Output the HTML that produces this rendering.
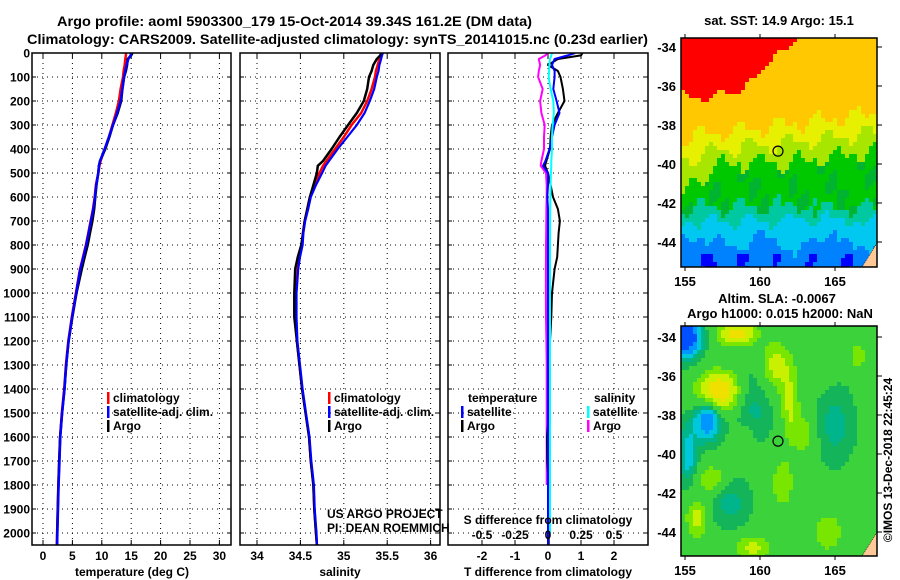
<!DOCTYPE html>
<html><head><meta charset="utf-8">
<style>
html,body{margin:0;padding:0;background:#fff;}
svg{display:block;}
text{font-family:"Liberation Sans",sans-serif;fill:#000;}
.b{font-weight:bold;font-size:12px;}
</style></head>
<body>
<svg id="fig" width="900" height="580" viewBox="0 0 900 580" xmlns="http://www.w3.org/2000/svg">
<defs>
<clipPath id="c1"><rect x="32" y="53" width="199" height="492"/></clipPath>
<clipPath id="c2"><rect x="240" y="53" width="200" height="492"/></clipPath>
<clipPath id="c3"><rect x="448" y="53" width="200" height="492"/></clipPath>
<clipPath id="cm1"><rect x="681" y="38" width="196" height="229"/></clipPath>
<clipPath id="cm2"><rect x="681" y="326" width="196" height="230"/></clipPath>
</defs>
<text x="57" y="26" class="b" style="font-size:14px" textLength="475" lengthAdjust="spacingAndGlyphs">Argo profile: aoml 5903300_179 15-Oct-2014 39.34S 161.2E (DM data)</text>
<text x="27" y="44" class="b" style="font-size:14px" textLength="621" lengthAdjust="spacingAndGlyphs">Climatology: CARS2009. Satellite-adjusted climatology: synTS_20141015.nc (0.23d earlier)</text>
<g id="g"></g>
</svg>
<script>
// ---- data ----
const depths = [0,10,25,50,75,100,150,200,250,300,350,400,450,470,500,550,600,650,700,750,800,850,900,1000,1100,1200,1300,1400,1500,1600,1700,1800,1900,2000,2050];
const tempClim = [14.1,14.1,14.0,13.9,13.7,13.6,13.2,12.9,12.4,11.8,11.2,10.5,9.8,9.6,9.4,9.0,8.8,8.5,8.1,7.7,7.3,6.8,6.3,5.6,4.9,4.3,3.9,3.6,3.2,2.9,2.75,2.6,2.5,2.4,2.35];
const tempSat = [15.0,14.9,14.5,14.2,14.0,13.8,13.5,13.2,12.6,11.9,11.2,10.5,9.7,9.5,9.4,9.05,8.85,8.55,8.15,7.75,7.35,6.85,6.35,5.65,4.95,4.35,3.95,3.65,3.25,2.95,2.8,2.65,2.55,2.45,2.4];
const tempArgo = [15.2,15.0,14.4,14.3,14.1,13.8,13.5,13.3,12.7,11.9,11.3,10.6,9.7,9.5,9.4,9.1,8.9,8.7,8.4,8.0,7.6,7.1,6.6,5.7,5.0,4.35,3.95,3.65,3.25,2.9,2.75,2.62,2.52,2.42,2.4];
const salClim = [35.43,35.43,35.41,35.39,35.37,35.36,35.32,35.27,35.20,35.09,35.00,34.90,34.80,34.76,34.72,34.66,34.61,34.58,34.55,34.53,34.52,34.49,34.47,34.45,34.45,34.46,34.49,34.52,34.56,34.60,34.62,34.65,34.66,34.68,34.69];
const salSat = [35.45,35.44,35.43,35.41,35.40,35.38,35.35,35.30,35.24,35.15,35.04,34.93,34.83,34.79,34.75,34.68,34.62,34.59,34.555,34.535,34.525,34.495,34.475,34.455,34.455,34.465,34.495,34.525,34.565,34.605,34.625,34.655,34.665,34.685,34.69];
const salArgo = [35.43,35.42,35.38,35.34,35.32,35.29,35.27,35.23,35.15,35.05,34.95,34.86,34.76,34.70,34.69,34.65,34.61,34.58,34.55,34.53,34.51,34.47,34.44,34.43,34.43,34.46,34.49,34.52,34.56,34.60,34.62,34.65,34.66,34.68,34.69];
const dTArgo = [1.05,1.0,0.3,0.0,0.3,0.38,0.45,0.5,0.3,0.12,0.08,0.06,-0.05,-0.09,0,0.08,0.15,0.3,0.36,0.32,0.3,0.28,0.2,0.12,0.1,0.06,0.05,0.04,0.03,-0.03,-0.02,0.02,0.02,0.02,0.02];
const dTSat = [0.82,0.6,0.2,0.12,0.2,0.2,0.16,0.26,0.35,0.2,0.12,0.05,-0.08,-0.15,0,0,-0.02,0,0,0,0,0,0,0,0,0,0,0,0,0,0,0,0,0,0];
const dSArgo = [0,-0.02,-0.07,-0.06,-0.07,-0.075,-0.04,-0.06,-0.05,-0.025,-0.03,-0.03,-0.05,-0.055,-0.015,-0.01,-0.01,-0.012,-0.013,-0.014,-0.015,-0.015,-0.016,-0.016,-0.015,-0.012,-0.01,-0.01,-0.01,-0.01,-0.01,-0.01,-0.01,-0.01,-0.01];
const dSSat = [0.03,0.025,0.015,0.01,0.008,0.005,0.02,0.04,0.045,0.035,0.03,0.03,0.025,0.025,0.022,0.02,0.018,0.017,0.016,0.016,0.015,0.015,0.015,0.015,0.015,0.015,0.015,0.015,0.015,0.015,0.015,0.015,0.015,0.015,0.015];
const depthTicks = [0,100,200,300,400,500,600,700,800,900,1000,1100,1200,1300,1400,1500,1600,1700,1800,1900,2000];
const tempTicks = [0,5,10,15,20,25,30];
const salTicks = [34,34.5,35,35.5,36];
const salTickLabels = ["34","34.5","35","35.5","36"];
const tdTicks = [-2,-1,0,1,2];
const sdTicks = [-0.5,-0.25,0,0.25,0.5];
const sdTickLabels = ["-0.5","-0.25","0","0.25","0.5"];
const latTicks = [-34,-36,-38,-40,-42,-44];
const lonTicks = [155,160,165];
const argoLon = 161.2, argoLat = -39.34;

// ---- scales ----
const yD = d => 53 + d*0.24;
const xT = t => 43 + t*5.88;
const xS = s => 257 + (s-34)*86.8;
const xTD = t => 548 + t*33;
const xSD = s => 548 + s*132;
const xLon = l => 685 + (l-155)*15;
const yLat1 = l => 47 + (-34-l)*19.5;
const yLat2 = l => 337 + (-34-l)*19.5;

const NS="http://www.w3.org/2000/svg";
const G=document.getElementById('g');
function el(tag,attrs,parent){const e=document.createElementNS(NS,tag);for(const k in attrs)e.setAttribute(k,attrs[k]);(parent||G).appendChild(e);return e;}
function txt(s,x,y,anchor,cls,parent){const t=el('text',{x:x,y:y,'text-anchor':anchor||'start','class':cls||'b'},parent);t.textContent=s;return t;}

// ---- panels ----
const panels=[{x0:32,x1:231,clip:'c1',name:'temperature-panel'},{x0:240,x1:440,clip:'c2',name:'salinity-panel'},{x0:448,x1:648,clip:'c3',name:'difference-panel'}];
const pg=[];
panels.forEach(p=>{
  const g=el('g',{});
  
  
  pg.push(g);
  depthTicks.forEach(d=>{ if(d>0){const l=el('line',{x1:p.x0,x2:p.x1,y1:yD(d),y2:yD(d),stroke:'#000','stroke-width':1,'stroke-dasharray':'1,4'},g);
    
    }
    el('line',{x1:p.x0,x2:p.x0+4,y1:yD(d),y2:yD(d),stroke:'#000'},g);
    el('line',{x1:p.x1-4,x2:p.x1,y1:yD(d),y2:yD(d),stroke:'#000'},g);
  });
});
function vgrid(g,xs){xs.forEach(x=>{const l=el('line',{x1:x,x2:x,y1:53,y2:545,stroke:'#000','stroke-dasharray':'1,4'},g);
  
  
  el('line',{x1:x,x2:x,y1:53,y2:58,stroke:'#000'},g);el('line',{x1:x,x2:x,y1:540,y2:545,stroke:'#000'},g);});}
vgrid(pg[0],tempTicks.map(xT));
vgrid(pg[1],salTicks.map(xS));
vgrid(pg[2],tdTicks.map(xTD));

depthTicks.forEach(d=>{const t=txt(String(d),30,yD(d)+4.5,'end');
  
  });
tempTicks.forEach(v=>{const t=txt(String(v),xT(v),560,'middle');
  
  });
salTicks.forEach((v,i)=>{const t=txt(salTickLabels[i],xS(v),560,'middle');
  
  });
tdTicks.forEach(v=>{const t=txt(String(v),xTD(v),560,'middle');
  
  });
sdTicks.forEach((v,i)=>{const t=txt(sdTickLabels[i],xSD(v),539,'middle');
  
  });
[['temperature (deg C)',132,'temperature-axis-title'],['salinity',340,'salinity-axis-title'],['T difference from climatology',548,'t-diff-axis-title']].forEach(a=>{
  const t=txt(a[0],a[1],576,'middle');
  
  });
const st=txt('S difference from climatology',548,524,'middle');



function line(g,xs,xf,color,w,name,maxD){
  const pts=depths.map((d,i)=>(maxD===undefined||d<=maxD)?xf(xs[i]).toFixed(1)+','+yD(d).toFixed(1):null).filter(Boolean).join(' ');
  const p=el('polyline',{points:pts,fill:'none',stroke:color,'stroke-width':w,'stroke-linejoin':'round'},g);
  
  
}
const l1=el('g',{'clip-path':'url(#c1)'},pg[0]);
line(l1,tempClim,xT,'#f00',2.5,'temp-climatology-line');
line(l1,tempArgo,xT,'#000',2.5,'temp-argo-line');
line(l1,tempSat,xT,'#00f',2.5,'temp-satellite-line');
const l2=el('g',{'clip-path':'url(#c2)'},pg[1]);
line(l2,salClim,xS,'#f00',2.5,'sal-climatology-line');
line(l2,salArgo,xS,'#000',2.5,'sal-argo-line');
line(l2,salSat,xS,'#00f',2.2,'sal-satellite-line');
const l3=el('g',{'clip-path':'url(#c3)'},pg[2]);
line(l3,dSArgo,xSD,'#f0f',2,'s-diff-argo-line',1820);
line(l3,dTArgo,xTD,'#000',2,'t-diff-argo-line');
line(l3,dTSat,xTD,'#00f',2,'t-diff-satellite-line');
line(l3,dSSat,xSD,'#0ff',2,'s-diff-satellite-line',2020);

panels.forEach((p,i)=>{const r=el('rect',{x:p.x0,y:53,width:p.x1-p.x0,height:492,fill:'none',stroke:'#000','stroke-width':1.5},pg[i]);
  
  });

function legItem(x,y,color,label){
  const g=el('g',{});
  
  
  el('rect',{x:x,y:y-10,width:2.5,height:12,fill:color},g);
  txt(label,x+6,y,'start','b',g);
}
legItem(107,402,'#f00','climatology');legItem(107,416,'#00f','satellite-adj. clim.');legItem(107,430,'#000','Argo');
legItem(328,402,'#f00','climatology');legItem(328,416,'#00f','satellite-adj. clim.');legItem(328,430,'#000','Argo');
const lt=txt('temperature',468,402);
const ls=txt('salinity',594,402);
legItem(461,416,'#00f','satellite');legItem(461,430,'#000','Argo');
legItem(587,416,'#0ff','satellite');legItem(587,430,'#f0f','Argo');
const c1=txt('US ARGO PROJECT',327,518,'start','');c1.setAttribute('style','font-size:12px');

const c2=txt('PI: DEAN ROEMMICH',327,532,'start','');c2.setAttribute('style','font-size:12px');


function sstColor(lon,lat){
  const w=0.35*Math.sin(lon*2.3+lat*1.7)+0.25*Math.sin(lon*5.1-lat*3.3);
  const redB=-36.5+Math.max(0,lon-158.3)*0.7;
  if(lat+w*0.5>redB) return '#ff0000';
  const goldB=-38.6+(lon-155)*0.1;
  if(lat+w>goldB) return '#ffc800';
  const greenB=-39.9-(lon<157.5?(157.5-lon)*0.6:0)+Math.max(0,lon-162)*0.1;
  if(lat+w>greenB) return (lat+w>(goldB+greenB)/2)?'#e6f000':'#a8e600';
  if(lat+w>-42.2) return (w>0.2)?'#00b432':'#00c800';
  if(lat+w*0.8>-42.9) return '#00c8a0';
  if(lat+w*0.8>-44.0+0.3*Math.sin(lon*1.5)) return '#00c8f0';
  if(lat<-44.6 && Math.sin(lon*2.7)+w>0.6) return '#0000ff';
  return '#0082ff';
}
const blobs=[[157.3,-36.8,0.75,1.0,0.7],[158.5,-33.8,0.6,0.9,0.45],[161,-35.5,0.4,0.7,0.9],[162,-37.5,0.35,0.45,1.3],[156.5,-38.3,-0.8,0.6,0.7],[155,-34,-1.3,0.7,0.7],[155.2,-40,-0.45,0.45,1.1],[156.8,-41.3,0.35,0.7,0.5],[155.8,-43.3,0.4,0.5,0.7],[161.5,-41.5,0.3,0.5,0.9],[159.5,-44.8,0.35,0.9,0.45],[164.5,-44,0.3,0.7,0.7],[163,-39,0.28,0.5,0.7],[159,-39.5,0.22,0.45,0.7],[166.5,-35,0.25,0.45,0.6],[159.5,-37.5,-0.25,1,1.5],[165,-38.5,-0.25,1,1.5],[158,-42.5,-0.25,1,1],[164,-36,0.18,0.5,0.5]];
function slaColor(lon,lat){
  let v=0;blobs.forEach(b=>{v+=b[2]*Math.exp(-((lon-b[0])**2)/(2*b[3]*b[3])-((lat-b[1])**2)/(2*b[4]*b[4]));});
  if(v<-0.8)return '#0050ff';if(v<-0.55)return '#0096ff';if(v<-0.35)return '#00c8dc';if(v<-0.2)return '#00b48c';
  if(v<-0.08)return '#14b45a';if(v<0.15)return '#3cd23c';if(v<0.3)return '#78e600';if(v<0.5)return '#c8f000';if(v<0.7)return '#f0e000';return '#ffb400';
}
function drawMap(clip,top,h,yLat,colorFn,name){
  const g=el('g',{'clip-path':'url('+clip+')'});
  
  
  for(let y=top;y<top+h;y+=4){for(let x=681;x<877;x+=4){
    const lon=155+(x+2-685)/15, lat=-34-(y+2-(yLat(-34)))/19.5;
    el('rect',{x:x,y:y,width:4.3,height:4.3,fill:colorFn(lon,lat)},g);
  }}
  el('polygon',{points:'877,'+(top+h-24)+' 877,'+(top+h)+' 862,'+(top+h),fill:'#ffc896',stroke:'#000','stroke-width':0.6,'stroke-dasharray':'1,1'},g);
  const f=el('rect',{x:681,y:top,width:196,height:h,fill:'none',stroke:'#000','stroke-width':1.5});
  
  
  latTicks.forEach(l=>{const t=txt(String(l),676,yLat(l)+5,'end','b');t.setAttribute('style','font-size:13px');
    
    
    el('line',{x1:877,x2:882,y1:yLat(l),y2:yLat(l),stroke:'#000'});});
  lonTicks.forEach(l=>{const t=txt(String(l),xLon(l),top+h+19,'middle','b');t.setAttribute('style','font-size:13px');
    
    
    el('line',{x1:xLon(l),x2:xLon(l),y1:top+h,y2:top+h+4,stroke:'#000'});el('line',{x1:xLon(l),x2:xLon(l),y1:top-4,y2:top,stroke:'#000'});});
  const c=el('circle',{cx:xLon(argoLon),cy:yLat(argoLat),r:5,fill:'none',stroke:'#000','stroke-width':1.2});
  
  
}
drawMap('#cm1',38,229,yLat1,sstColor,'sst-map');
drawMap('#cm2',326,230,yLat2,slaColor,'sla-map');
const m1=txt('sat. SST: 14.9 Argo: 15.1',779,25,'middle');m1.setAttribute('style','font-size:13px');

const m2=txt('Altim. SLA: -0.0067',777,303,'middle');m2.setAttribute('style','font-size:13px');

const m3=txt('Argo h1000: 0.015 h2000: NaN',780,318,'middle');m3.setAttribute('style','font-size:13px');

const cr=txt('©IMOS 13-Dec-2018 22:45:24',0,0,'middle','');cr.setAttribute('style','font-size:12px');
cr.setAttribute('transform','translate(892,460) rotate(-90)');

</script>
</body></html>
